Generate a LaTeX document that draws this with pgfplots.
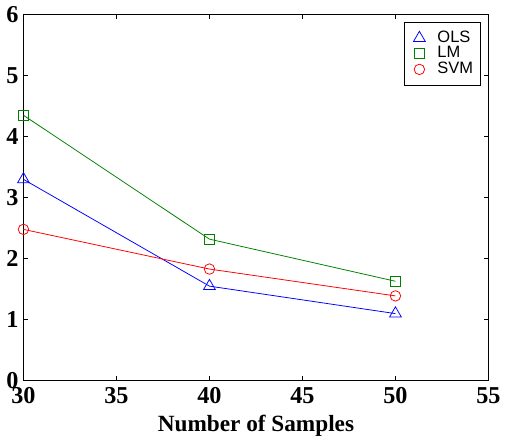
\documentclass[border=0pt]{standalone}
\usepackage{pgfplots}
\pgfplotsset{compat=1.18}
\usepackage{fontspec}
\setmainfont{Liberation Serif}
\newfontfamily\legfont{Liberation Sans}

\definecolor{mblue}{rgb}{0,0,1}
\definecolor{mgreen}{rgb}{0,0.5,0}
\definecolor{mred}{rgb}{1,0,0}

\begin{document}
\begin{tikzpicture}
\begin{axis}[
  scale only axis,
  width=240pt, height=189pt,
  xmin=30, xmax=55, ymin=0, ymax=6,
  xtick={30,35,...,55}, ytick={0,1,...,6},
  tick align=inside,
  major tick length=2.5pt,
  axis line style={line width=0.7pt},
  every tick/.style={black, line width=0.5pt},
  /pgf/number format/assume math mode=true,
  ticklabel style={font=\bfseries\fontsize{12.5}{14}\selectfont},
  yticklabel style={xshift=1pt},
  xlabel={Number of Samples},
  xlabel style={font=\bfseries\fontsize{12}{14}\selectfont, yshift=1pt},
  legend style={font=\legfont\fontsize{8.5}{9}\selectfont, at={(0.985,0.981)}, anchor=north east,
    draw=black, line width=0.6pt, row sep=-3.3pt, inner xsep=2pt, inner ysep=2.5pt,
    cells={anchor=west}},
  legend image code/.code={\path (0,0) (0.45cm,0);
    \draw[#1, mark repeat=1] plot coordinates {(0.2cm,0cm)};},
]
\addplot[mblue, line width=0.4pt, mark=triangle, mark size=3.5pt, mark options={solid, line width=0.4pt}]
  coordinates {(30,3.30) (40,1.55) (50,1.10)};
\addlegendentry{OLS}
\addplot[mgreen, line width=0.4pt, mark=square, mark size=2.6pt, mark options={solid, line width=0.4pt}]
  coordinates {(30,4.35) (40,2.32) (50,1.63)};
\addlegendentry{LM}
\addplot[mred, line width=0.4pt, mark=o, mark size=2.7pt, mark options={solid, line width=0.4pt}]
  coordinates {(30,2.48) (40,1.83) (50,1.39)};
\addlegendentry{SVM}
\end{axis}
\end{tikzpicture}
\end{document}
